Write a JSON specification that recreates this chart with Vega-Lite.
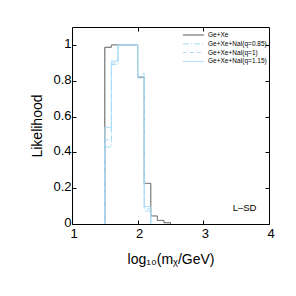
{
  "$schema": "https://vega.github.io/schema/vega-lite/v6.json",
  "width": 197,
  "height": 197,
  "autosize": "none",
  "padding": {"left": 72, "top": 27, "right": 27, "bottom": 72},
  "background": "white",
  "config": {
    "view": {"stroke": "black", "strokeWidth": 1},
    "font": "Liberation Sans",
    "axis": {"grid": false, "domain": false, "tickColor": "black", "labelColor": "black", "titleColor": "black", "labelFont": "Liberation Sans", "titleFont": "Liberation Sans", "labelFontSize": 13, "titleFontSize": 14, "titleFontWeight": "normal"}
  },
  "datasets": {
    "hist": [
      {"s": "Ge+Xe", "i": 0, "x": 1.5, "y": 0},
      {"s": "Ge+Xe", "i": 1, "x": 1.5, "y": 0.987},
      {"s": "Ge+Xe", "i": 2, "x": 1.6, "y": 1.0},
      {"s": "Ge+Xe", "i": 3, "x": 1.7, "y": 1.0},
      {"s": "Ge+Xe", "i": 4, "x": 1.8, "y": 1.0},
      {"s": "Ge+Xe", "i": 5, "x": 1.9, "y": 1.0},
      {"s": "Ge+Xe", "i": 6, "x": 2.0, "y": 0.82},
      {"s": "Ge+Xe", "i": 7, "x": 2.1, "y": 0.227},
      {"s": "Ge+Xe", "i": 8, "x": 2.2, "y": 0.045},
      {"s": "Ge+Xe", "i": 9, "x": 2.3, "y": 0.02},
      {"s": "Ge+Xe", "i": 10, "x": 2.4, "y": 0.007},
      {"s": "Ge+Xe", "i": 11, "x": 2.5, "y": 0},
      {"s": "Ge+Xe+NaI(q=0.85)", "i": 0, "x": 1.5, "y": 0},
      {"s": "Ge+Xe+NaI(q=0.85)", "i": 1, "x": 1.5, "y": 0.43},
      {"s": "Ge+Xe+NaI(q=0.85)", "i": 2, "x": 1.6, "y": 0.89},
      {"s": "Ge+Xe+NaI(q=0.85)", "i": 3, "x": 1.7, "y": 1.0},
      {"s": "Ge+Xe+NaI(q=0.85)", "i": 4, "x": 1.8, "y": 1.0},
      {"s": "Ge+Xe+NaI(q=0.85)", "i": 5, "x": 1.9, "y": 1.0},
      {"s": "Ge+Xe+NaI(q=0.85)", "i": 6, "x": 2.0, "y": 0.815},
      {"s": "Ge+Xe+NaI(q=0.85)", "i": 7, "x": 2.1, "y": 0.073},
      {"s": "Ge+Xe+NaI(q=0.85)", "i": 8, "x": 2.2, "y": 0},
      {"s": "Ge+Xe+NaI(q=1)", "i": 0, "x": 1.5, "y": 0},
      {"s": "Ge+Xe+NaI(q=1)", "i": 1, "x": 1.5, "y": 0.47},
      {"s": "Ge+Xe+NaI(q=1)", "i": 2, "x": 1.6, "y": 0.9},
      {"s": "Ge+Xe+NaI(q=1)", "i": 3, "x": 1.7, "y": 1.0},
      {"s": "Ge+Xe+NaI(q=1)", "i": 4, "x": 1.8, "y": 1.0},
      {"s": "Ge+Xe+NaI(q=1)", "i": 5, "x": 1.9, "y": 1.0},
      {"s": "Ge+Xe+NaI(q=1)", "i": 6, "x": 2.0, "y": 0.84},
      {"s": "Ge+Xe+NaI(q=1)", "i": 7, "x": 2.1, "y": 0.085},
      {"s": "Ge+Xe+NaI(q=1)", "i": 8, "x": 2.2, "y": 0},
      {"s": "Ge+Xe+NaI(q=1.15)", "i": 0, "x": 1.5, "y": 0},
      {"s": "Ge+Xe+NaI(q=1.15)", "i": 1, "x": 1.5, "y": 0.54},
      {"s": "Ge+Xe+NaI(q=1.15)", "i": 2, "x": 1.6, "y": 0.91},
      {"s": "Ge+Xe+NaI(q=1.15)", "i": 3, "x": 1.7, "y": 1.0},
      {"s": "Ge+Xe+NaI(q=1.15)", "i": 4, "x": 1.8, "y": 1.0},
      {"s": "Ge+Xe+NaI(q=1.15)", "i": 5, "x": 1.9, "y": 1.0},
      {"s": "Ge+Xe+NaI(q=1.15)", "i": 6, "x": 2.0, "y": 0.825},
      {"s": "Ge+Xe+NaI(q=1.15)", "i": 7, "x": 2.1, "y": 0.097},
      {"s": "Ge+Xe+NaI(q=1.15)", "i": 8, "x": 2.2, "y": 0}
    ],
    "note": [{"x": 3.627, "y": 0.089, "t": "L\u2013SD"}]
  },
  "layer": [
    {
      "data": {"name": "hist"},
      "mark": {"type": "line", "interpolate": "step-after", "strokeWidth": 1, "clip": true},
      "encoding": {
        "x": {"field": "x", "type": "quantitative", "scale": {"domain": [1, 4], "nice": false, "zero": false},
          "axis": {"title": "log\u2081\u2080(m\u1d6a/GeV)", "values": [1, 2, 3, 4], "format": "d", "tickSize": -4, "labelPadding": 7, "labelOffset": 1.5, "titlePadding": 12, "labelFlush": false}},
        "y": {"field": "y", "type": "quantitative", "scale": {"domain": [0, 1.1], "nice": false},
          "axis": {"title": "Likelihood", "values": [0, 0.2, 0.4, 0.6, 0.8, 1], "labelExpr": "datum.value == 0 ? '0' : datum.value == 1 ? '1' : format(datum.value, '.1f')", "tickSize": -4, "labelPadding": 5, "labelOffset": -1.5, "titlePadding": 8, "labelFlush": false}},
        "order": {"field": "i", "type": "quantitative"},
        "color": {"field": "s", "type": "nominal", "title": null,
          "scale": {"domain": ["Ge+Xe", "Ge+Xe+NaI(q=0.85)", "Ge+Xe+NaI(q=1)", "Ge+Xe+NaI(q=1.15)"], "range": ["#555555", "#a6dbf7", "#a6dbf7", "#a6dbf7"]},
          "legend": {"orient": "none", "legendX": 110, "legendY": 5, "labelFontSize": 6.5, "labelFont": "Liberation Sans", "labelColor": "black", "symbolType": "stroke", "symbolSize": 450, "symbolStrokeWidth": 1, "clipHeight": 6, "rowPadding": 1.8, "labelOffset": 3, "padding": 0}},
        "strokeDash": {"field": "s", "type": "nominal", "title": null,
          "scale": {"domain": ["Ge+Xe", "Ge+Xe+NaI(q=0.85)", "Ge+Xe+NaI(q=1)", "Ge+Xe+NaI(q=1.15)"], "range": [[1, 0], [6, 2, 1, 2], [4, 3], [1, 0]]}}
      }
    },
    {
      "data": {"name": "note"},
      "mark": {"type": "text", "fontSize": 9.5, "font": "Liberation Sans", "color": "black"},
      "encoding": {
        "x": {"field": "x", "type": "quantitative", "axis": {"orient": "top", "title": null, "labels": false, "values": [2, 3], "tickSize": -4, "domain": false}},
        "y": {"field": "y", "type": "quantitative", "axis": {"orient": "right", "title": null, "labels": false, "values": [0.2, 0.4, 0.6, 0.8, 1], "tickSize": -4, "domain": false}},
        "text": {"field": "t"}
      }
    }
  ],
  "resolve": {"axis": {"x": "independent", "y": "independent"}}
}
